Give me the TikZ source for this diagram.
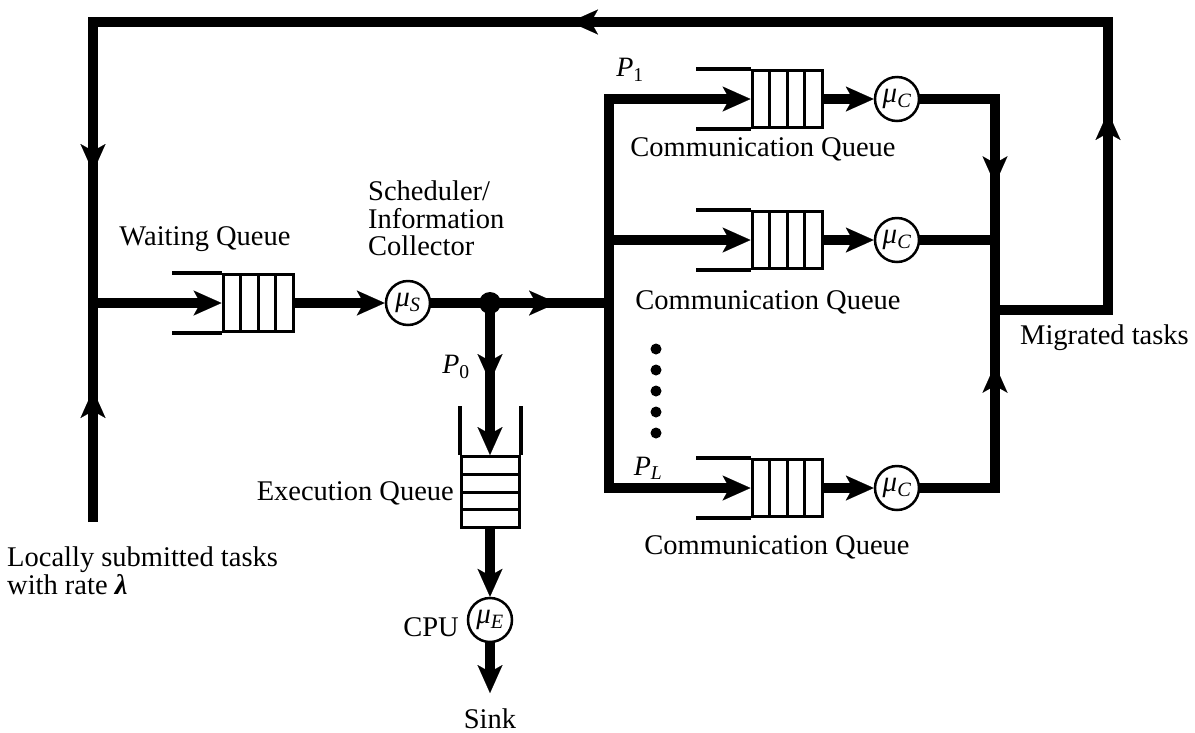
\documentclass[tikz,border=0pt]{standalone}
\usepackage{fontspec}
\setmainfont{Liberation Serif}
\usetikzlibrary{arrows.meta,decorations.markings,calc}

\tikzset{
  bigtip/.tip={Stealth[length=28pt,width=25pt,inset=7pt,line width=0.1pt]},
  flow/.style={line width=10pt},
  midtip/.style={postaction={decorate,decoration={markings,mark=at position #1 with {\arrow{bigtip}}}}},
  rail/.style={line width=4pt},
  hq/.style={draw, line width=3pt, minimum width=70pt, minimum height=57pt, inner sep=0pt,
    path picture={\foreach \f in {0.25,0.5,0.75}
      \draw[line width=3pt] ($(path picture bounding box.north west)!\f!(path picture bounding box.north east)$)
        -- ($(path picture bounding box.south west)!\f!(path picture bounding box.south east)$);}},
  vq/.style={draw, line width=3pt, minimum width=58pt, minimum height=71pt, inner sep=0pt,
    path picture={\foreach \f in {0.25,0.5,0.75}
      \draw[line width=3pt] ($(path picture bounding box.north west)!\f!(path picture bounding box.south west)$)
        -- ($(path picture bounding box.north east)!\f!(path picture bounding box.south east)$);}},
  srv/.style={circle, draw, line width=2.5pt, minimum size=44pt, inner sep=0pt,
    font=\fontsize{29}{29}\selectfont\itshape},
  lbl/.style={inner sep=0pt, font=\fontsize{28.5}{28.5}\selectfont},
  plbl/.style={inner sep=0pt, font=\fontsize{28}{28}\selectfont\itshape},
}

\begin{document}
\begin{tikzpicture}[x=1pt,y=-1pt]
\path[use as bounding box] (0,0) rectangle (1195,732);

% routing points
\coordinate (src)   at (93,522);
\coordinate (jl)    at (93,303);
\coordinate (tl)    at (93,22);
\coordinate (tr)    at (1108,22);
\coordinate (mr)    at (1108,310);
\coordinate (mm)    at (995,310);
\coordinate (split) at (609,303);
\coordinate (sink)  at (490,693);

% queues and servers
\node[hq] (wq)  at (258,303) {};
\node[srv] (ms) at (408,303) {μ\textsubscript{S}};
\node[circle, fill, minimum size=22pt, inner sep=0pt] (j) at (490,303) {};
\node[vq] (eq)  at (490,492) {};
\node[srv] (me) at (490,620) {μ\textsubscript{E}};

\node[hq] (cq1) at (787,99) {};
\node[hq] (cq2) at (787,240) {};
\node[hq] (cqL) at (787,488) {};
\node[srv] (mc1) at (897,99)  {μ\textsubscript{C}};
\node[srv] (mc2) at (897,240) {μ\textsubscript{C}};
\node[srv] (mcL) at (897,488) {μ\textsubscript{C}};

% open ends of the queues
\draw[rail] (wq.north west) -- ++(-50,0);
\draw[rail] (wq.south west) -- ++(-50,0);
\foreach \q in {cq1,cq2,cqL}{
  \draw[rail] (\q.north west) -- ++(-55,0);
  \draw[rail] (\q.south west) -- ++(-55,0);
}
\draw[rail] (eq.north west) -- ++(0,-49);
\draw[rail] (eq.north east) -- ++(0,-49);

% arrivals and feedback loop
\draw[flow, midtip=132pt] (src) -- (jl);
\draw[flow, midtip=311pt, midtip=939pt, midtip=1566pt] (mm) -- (mr) -- (tr) -- (tl) -- (jl);
\draw[flow, -bigtip] (jl) -- (wq.west);
\draw[flow, -bigtip] (wq.east) -- (ms.west);
\draw[flow] (ms.east) -- (j.center);

% local execution
\draw[flow, midtip=79pt, -bigtip] (j.center) -- (eq.north);
\draw[flow, -bigtip] (eq.south) -- (me.north);
\draw[flow, -bigtip] (me.south) -- (sink);

% transfer branches
\draw[flow, midtip=67pt] (j.center) -- (split);
\draw[flow, -bigtip] (split) |- (cq1.west);
\draw[flow, -bigtip] (split) |- (cqL.west);
\draw[flow, -bigtip] (split |- cq2.west) -- (cq2.west);
\foreach \q/\s in {cq1/mc1,cq2/mc2,cqL/mcL}
  \draw[flow, -bigtip] (\q.east) -- (\s.west);

% merge of migrated tasks
\draw[flow, midtip=160pt] (mc1.east) -| (mm);
\draw[flow] (mc2.east) -- (mc2.east -| mm);
\draw[flow, midtip=198pt] (mcL.east) -| (mm);

% omitted branches
\foreach \yy in {349,370,391,412,433}
  \fill (656,\yy) circle (5.5pt);

% labels
\node[lbl, anchor=base] (lwq) at (205,245) {Waiting Queue};
\node[lbl, anchor=north west, align=left, font=\fontsize{28.5}{27.5}\selectfont] (lsc) at (368,181)
  {Scheduler/\\Information\\Collector};
\node[lbl, anchor=base east] (leq) at (454,500) {Execution Queue};
\node[lbl, anchor=base east] (lcpu) at (459,636) {CPU};
\node[lbl, anchor=base] (lsink) at (490,728) {Sink};
\node[lbl, anchor=base] (lc1) at (763,156) {Communication Queue};
\node[lbl, anchor=base] (lc2) at (768,309) {Communication Queue};
\node[lbl, anchor=base] (lc3) at (777,554) {Communication Queue};
\node[lbl, anchor=base west] (lmig) at (1020,344) {Migrated tasks};
\node[lbl, anchor=north west, align=left, font=\fontsize{28.5}{26}\selectfont] (lsrc) at (7,547)
  {Locally submitted tasks\\with rate \textbf{\textit{λ}}};
\node[plbl] (p0) at (456,367) {P\textsubscript{\upshape 0}};
\node[plbl] (p1) at (630,70) {P\textsubscript{\upshape 1}};
\node[plbl] (pl) at (648,468) {P\textsubscript{L}};
\end{tikzpicture}
\end{document}
